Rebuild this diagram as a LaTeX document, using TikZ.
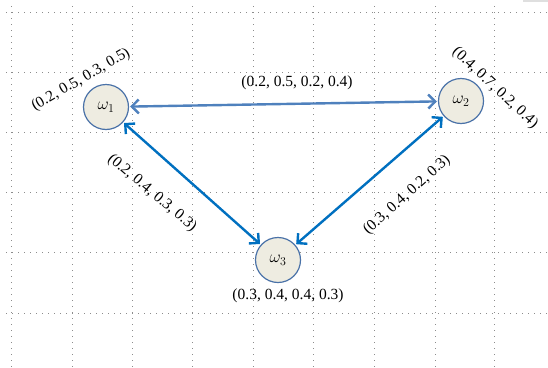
\documentclass[tikz,border=0pt]{standalone}
\usepackage{fontspec}
\setmainfont{Liberation Serif}
\usetikzlibrary{arrows.meta}
\definecolor{nodefill}{HTML}{EEECE1}
\definecolor{nodeline}{HTML}{4A72A8}
\definecolor{toparrow}{HTML}{4F81BD}
\definecolor{diagarrow}{HTML}{0070C0}
\definecolor{gridgray}{HTML}{8C8C8C}
\tikzset{
  state/.style={circle, draw=nodeline, fill=nodefill, line width=1.2pt, minimum size=45pt, inner sep=0pt, font=\fontsize{17}{19}\selectfont},
  lbl/.style={font=\fontsize{15.5}{17}\selectfont, inner sep=0pt},
  gridline/.style={gridgray, line width=1pt, dash pattern=on 1pt off 5pt},
  link/.style={line width=2.4pt, {Straight Barb[length=7pt,width=14pt]}-{Straight Barb[length=7pt,width=14pt]}, shorten <=1pt, shorten >=1pt}
}
\begin{document}
\begin{tikzpicture}[x=1pt,y=-1pt]
\useasboundingbox (0,0) rectangle (548,367);
\fill[white] (0,0) rectangle (548,367);
% grid
\foreach \gx in {11,72,132,192,253,313,374,435,494} \draw[gridline] (\gx,6) -- (\gx,367);
\foreach \gy in {12,72,132,192,252,313} \draw[gridline] (6,\gy) -- (548,\gy);
\fill[gray!25] (523,0) rectangle (548,2);
% nodes
\node[state] (w1) at (106,107) {$\omega_1$};
\node[state] (w2) at (461,101) {$\omega_2$};
\node[state] (w3) at (278,260) {$\omega_3$};
% connectors
\draw[link, toparrow] (w1) -- (w2);
\draw[link, diagarrow] (w1) -- (w3);
\draw[link, diagarrow] (w2) -- (w3);
% labels
\node[lbl] (l12) at (297,83) {(0.2, 0.5, 0.2, 0.4)};
\node[lbl, rotate=30] (l1) at (81,80) {(0.2, 0.5, 0.3, 0.5)};
\node[lbl, rotate=-43] (l2) at (495,88) {(0.4, 0.7, 0.2, 0.4)};
\node[lbl, rotate=-40] (l13) at (152,193) {(0.2, 0.4, 0.3, 0.3)};
\node[lbl, rotate=42] (l23) at (407,195) {(0.3, 0.4, 0.2, 0.3)};
\node[lbl] (l3) at (288,296) {(0.3, 0.4, 0.4, 0.3)};
\end{tikzpicture}
\end{document}
